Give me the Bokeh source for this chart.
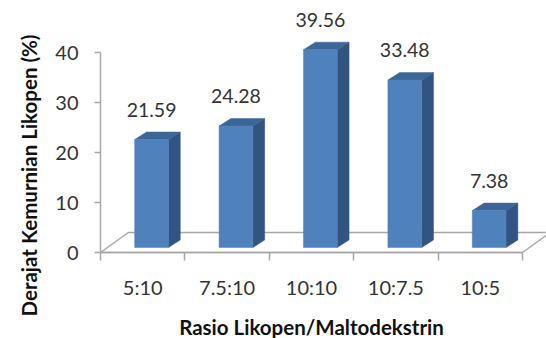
import math
from bokeh.plotting import figure
from bokeh.models import FixedTicker, Range1d, ColumnDataSource, Label
from bokeh.embed import file_html
from bokeh.resources import INLINE
from bokeh.core.properties import value

categories = ["5:10", "7.5:10", "10:10", "10:7.5", "10:5"]
values = [21.59, 24.28, 39.56, 33.48, 7.38]
y_ticks = [0, 10, 20, 30, 40]
x_title = "Rasio Likopen/Maltodekstrin"
y_title = "Derajat Kemurnian Likopen (%)"

n = len(categories)
FONT = "Lato"
TXT = "#333333"
GRAY = "#A6A6A6"

# 3D geometry (data units)
bar_w = 0.40          # bar width as fraction of a category
sx, sy = 0.105, 1.0   # shift of bar front plane into the depth
dx, dy = 0.14, 1.5    # bar depth
fx, fy = 0.33, 4.0    # floor depth

W, H = 546, 338
cat_px, val_px = 84.4, 5.0       # pixels per category / per value unit
x0_px, y0_px = 100, 252          # canvas position of the origin

p = figure(width=W, height=H, output_backend="svg", toolbar_location=None,
           x_range=Range1d(-x0_px / cat_px, (W - x0_px) / cat_px),
           y_range=Range1d(-(H - y0_px) / val_px, y0_px / val_px),
           min_border=0)
p.grid.visible = False
p.outline_line_color = None
p.background_fill_color = "white"
p.border_fill_color = "white"

# floor
p.patch(x=[0, n, n + fx, fx], y=[0, 0, fy, fy], fill_color="white",
        line_color=GRAY, line_width=1.5)

centers = [i + 0.5 for i in range(n)]
xl = [c - bar_w / 2 + sx for c in centers]
xr = [c + bar_w / 2 + sx for c in centers]
bot = [sy] * n
top = [v + sy for v in values]

side_xs = [[r, r + dx, r + dx, r] for r in xr]
side_ys = [[b, b + dy, t + dy, t] for b, t in zip(bot, top)]
top_xs = [[l, r, r + dx, l + dx] for l, r in zip(xl, xr)]
top_ys = [[t, t, t + dy, t + dy] for t in top]

p.patches(xs=side_xs, ys=side_ys, fill_color="#325481", line_color="#325481", line_width=0.5)
p.patches(xs=top_xs, ys=top_ys, fill_color="#3C6598", line_color="#3C6598", line_width=0.5)
p.quad(left=xl, right=xr, bottom=bot, top=top, fill_color="#4F81BD",
       line_color="#4F81BD", line_width=0.5)

lab = ColumnDataSource(dict(x=[c + sx for c in centers],
                            y=[t + 6.0 for t in top],
                            text=[f"{v:.2f}" for v in values]))
p.text(x="x", y="y", text="text", source=lab, text_align="center",
       text_baseline="middle", text_font=value(FONT), text_font_size="19.5px",
       text_color=TXT)

# x axis (drawn at y = 0)
xa = p.xaxis[0]
xa.fixed_location = 0
xa.ticker = FixedTicker(ticks=centers, minor_ticks=list(range(n + 1)))
xa.major_label_overrides = {c: s for c, s in zip(centers, categories)}
xa.bounds = (0, n)
xa.axis_line_color = GRAY
xa.axis_line_width = 1.5
xa.major_tick_line_color = None
xa.major_tick_out = 8
xa.major_tick_in = 0
xa.minor_tick_line_color = GRAY
xa.minor_tick_line_width = 1.5
xa.minor_tick_out = 8
xa.minor_tick_in = 0
xa.major_label_standoff = 14
xa.major_label_text_font = FONT
xa.major_label_text_font_size = "20px"
xa.major_label_text_color = TXT

# y axis (drawn at x = 0)
ya = p.yaxis[0]
ya.fixed_location = 0
ya.ticker = FixedTicker(ticks=y_ticks, minor_ticks=[])
ya.bounds = (0, 40)
ya.axis_line_color = GRAY
ya.axis_line_width = 1.5
ya.major_tick_line_color = GRAY
ya.major_tick_line_width = 1.5
ya.major_tick_out = 6
ya.major_tick_in = 0
ya.minor_tick_line_color = None
ya.major_label_standoff = 16
ya.major_label_text_font = FONT
ya.major_label_text_font_size = "20px"
ya.major_label_text_color = TXT

# axis titles (screen positions from the bottom-left corner)
p.add_layout(Label(x=311, y=H - 326, x_units="screen", y_units="screen",
                   text=x_title, text_align="center", text_baseline="middle",
                   text_font=FONT, text_font_style="bold", text_font_size="20.5px",
                   text_color="#111111"))
p.add_layout(Label(x=28, y=H - 175, x_units="screen", y_units="screen",
                   text=y_title, angle=math.pi / 2, text_align="center",
                   text_baseline="middle", text_font=FONT, text_font_style="bold",
                   text_font_size="20.5px", text_color="#111111"))

open("out.html", "w").write(file_html(p, INLINE))
